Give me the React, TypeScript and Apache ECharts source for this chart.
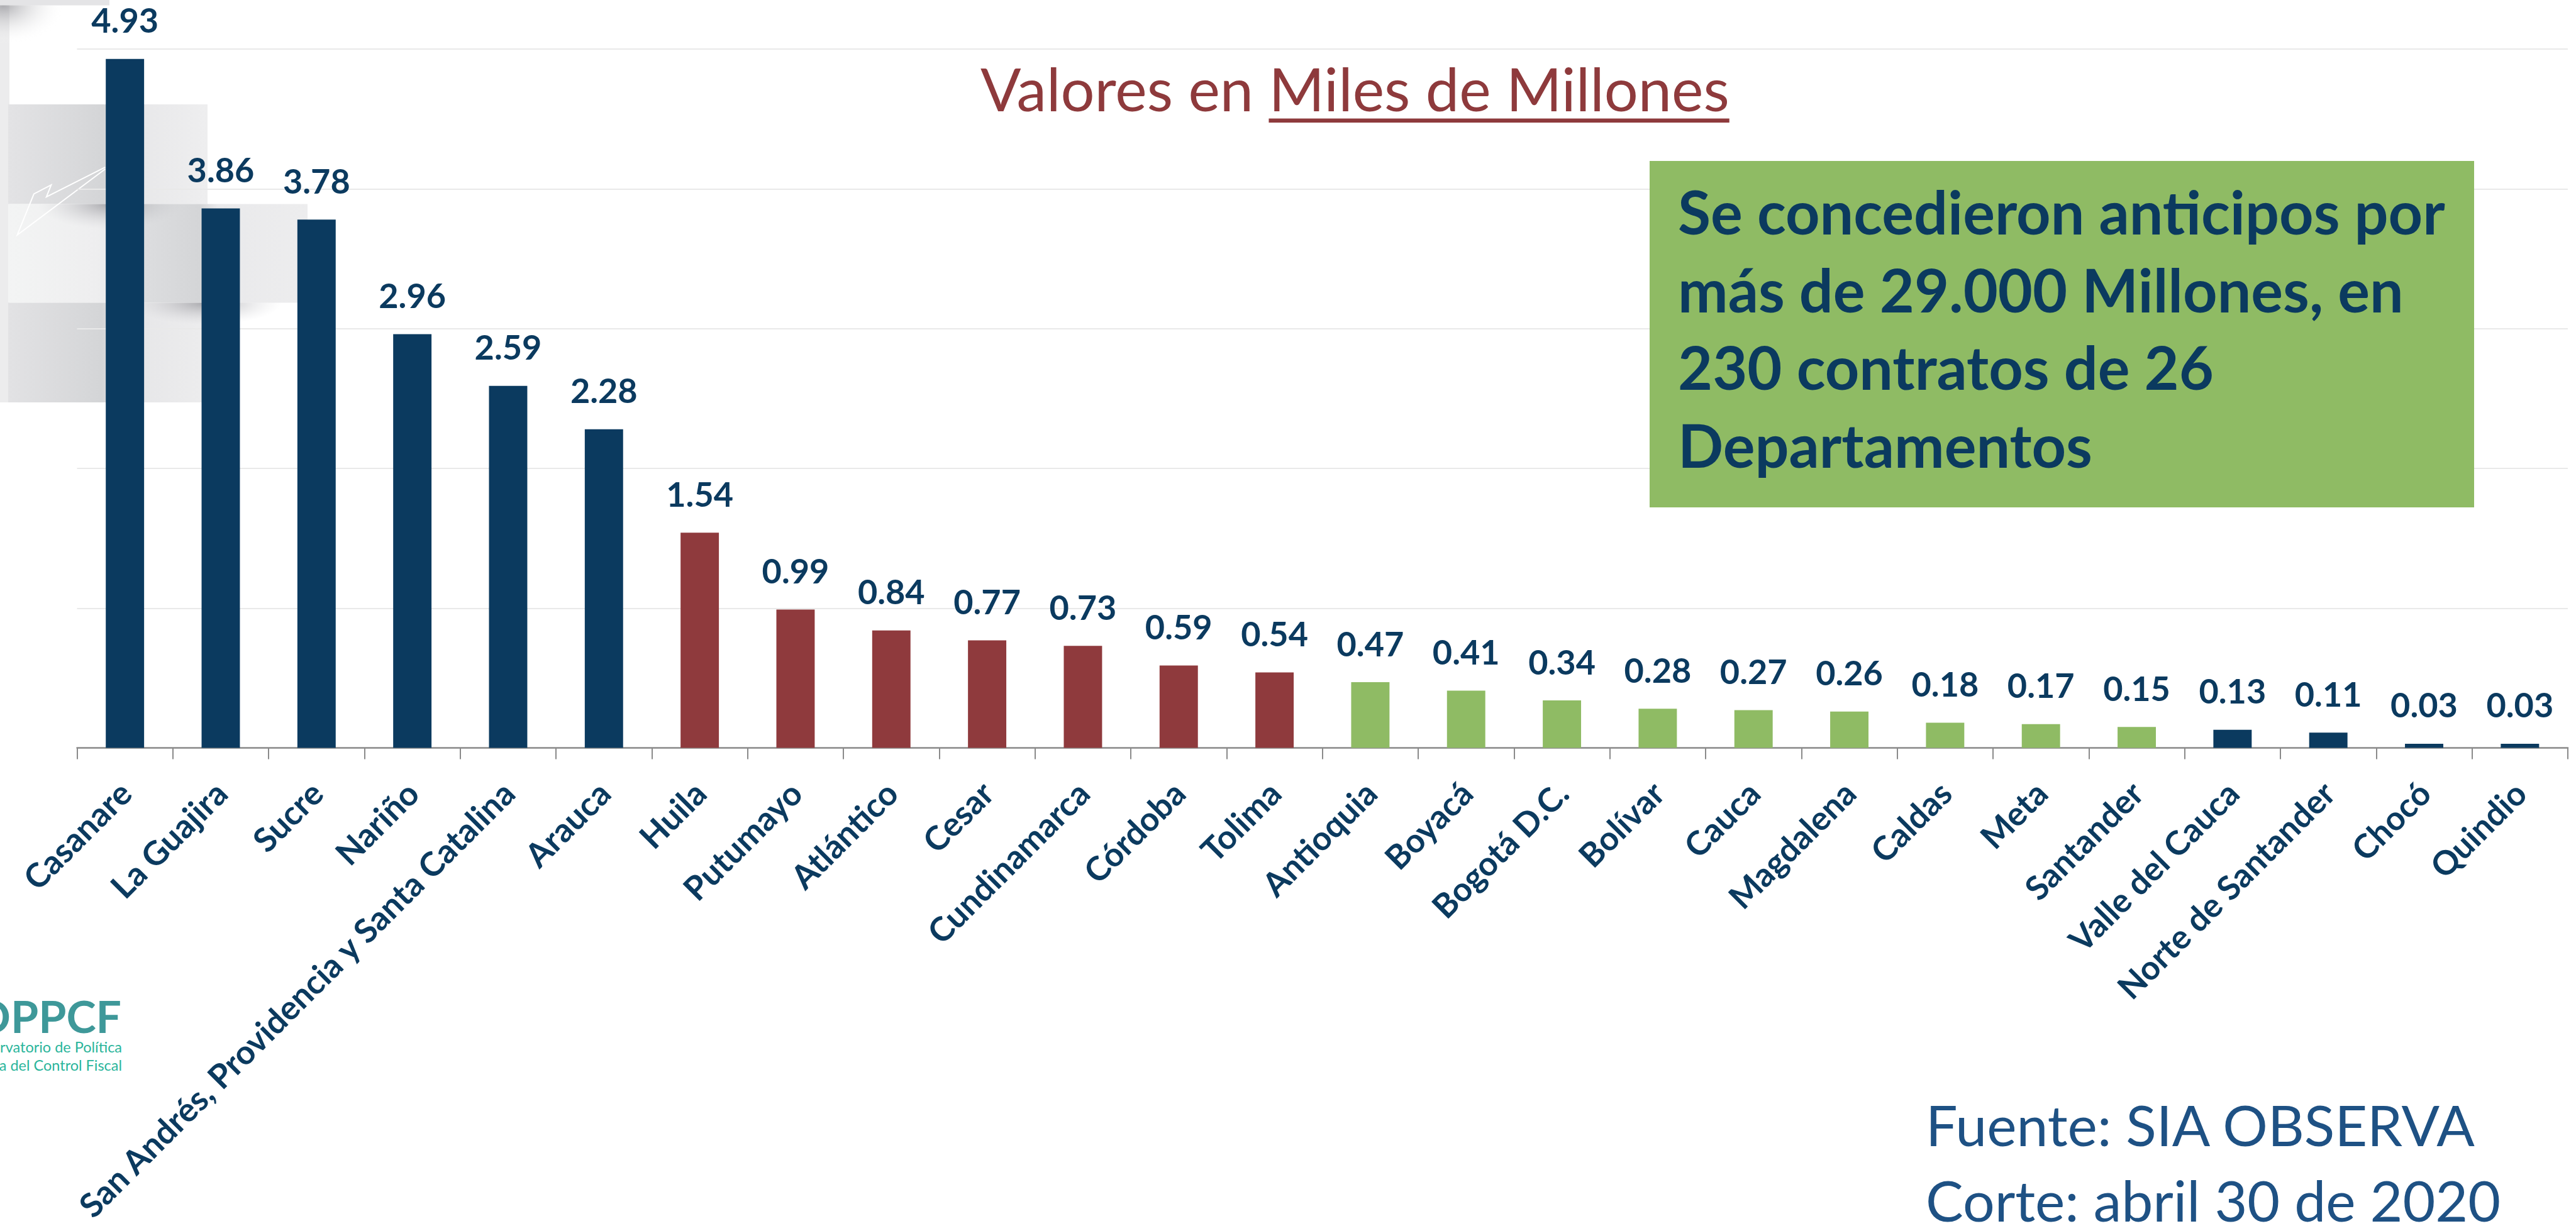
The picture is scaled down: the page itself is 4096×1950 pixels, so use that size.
import React, { useEffect, useRef } from "react";
import * as echarts from "echarts";

// ---------- DATA ----------
const categories: string[] = [
  "Casanare",
  "La Guajira",
  "Sucre",
  "Nariño",
  "San Andrés, Providencia y Santa Catalina",
  "Arauca",
  "Huila",
  "Putumayo",
  "Atlántico",
  "Cesar",
  "Cundinamarca",
  "Córdoba",
  "Tolima",
  "Antioquia",
  "Boyacá",
  "Bogotá D.C.",
  "Bolívar",
  "Cauca",
  "Magdalena",
  "Caldas",
  "Meta",
  "Santander",
  "Valle del Cauca",
  "Norte de Santander",
  "Chocó",
  "Quindio",
];

const values: number[] = [
  4.93, 3.86, 3.78, 2.96, 2.59, 2.28, 1.54, 0.99, 0.84, 0.77, 0.73, 0.59, 0.54,
  0.47, 0.41, 0.34, 0.28, 0.27, 0.26, 0.18, 0.17, 0.15, 0.13, 0.11, 0.03, 0.03,
];

const groups: string[] = [
  "alto", "alto", "alto", "alto", "alto", "alto",
  "medio", "medio", "medio", "medio", "medio", "medio", "medio",
  "bajo", "bajo", "bajo", "bajo", "bajo", "bajo", "bajo", "bajo", "bajo",
  "alto", "alto", "alto", "alto",
];

const yInterval = 1; // gridline step (0,1,2,3,4,5 visible)

const titleText = "Valores en Miles de Millones";
const titlePlain = "Valores en ";
const boxLines: string[] = [
  "Se concedieron anticipos por",
  "más de 29.000 Millones, en",
  "230 contratos de 26",
  "Departamentos",
];
const sourceLines: string[] = ["Fuente: SIA OBSERVA", "Corte: abril 30 de 2020"];
const logoLines: string[] = ["Observatorio de Política", "Pública del Control Fiscal"];

// ---------- STYLE / LAYOUT ----------
const NAVY = "#0B3A5F";
const RED = "#8F3A3D";
const GREEN = "#8FBB64";
const palette: Record<string, string> = { alto: NAVY, medio: RED, bajo: GREEN };
const FONT = "Lato";

const W = 4096;
const H = 1950;
const AXIS_Y = 1189.6; // pixel row of the category axis
const UNIT_PX = 222.3; // pixels per unit on the value axis

let measureCtx: CanvasRenderingContext2D | null = null;
function textWidth(text: string, weight: string, size: number): number {
  if (!measureCtx) measureCtx = document.createElement("canvas").getContext("2d");
  measureCtx!.font = `${weight} ${size}px ${FONT}`;
  return measureCtx!.measureText(text).width;
}
function fitSize(text: string, weight: string, target: number): number {
  return (100 * target) / textWidth(text, weight, 100);
}
// y for verticalAlign middle (SVG central baseline) given wanted alphabetic baseline
const midY = (baseline: number, size: number) => baseline - 0.387 * size;

export default function App() {
  const ref = useRef<HTMLDivElement>(null);

  useEffect(() => {
    if (!ref.current) return;
    const chart = echarts.init(ref.current, null, { renderer: "svg", width: W, height: H });

    const titleSize = fitSize(titleText, "normal", 1191);
    const titleX = 1559;
    const ulStart = titleX + textWidth(titlePlain, "normal", titleSize);
    const ulEnd = titleX + textWidth(titleText, "normal", titleSize);

    const boxSize = fitSize(boxLines[0], "bold", 1220);
    const srcSize = fitSize(sourceLines[0], "normal", 876);
    const logoBig = fitSize("PPCF", "bold", 176);
    const logoSmall = fitSize("rvatorio de Política", "normal", 194);

    const boxBaselines = [373, 497, 620, 744];
    const srcBaselines = [1823, 1943];

    const graphics: any[] = [
      // decorative slide background (left)
      { type: "rect", z: -5, shape: { x: 0, y: 0, width: 15, height: 640 }, style: { fill: "#ececed" } },
      { type: "rect", z: -5, shape: { x: 0, y: 0, width: 174, height: 8.5 }, style: { fill: "#e4e4e6" } },
      {
        type: "rect", z: -5, shape: { x: 0, y: 8.5, width: 110, height: 70 },
        style: {
          fill: new echarts.graphic.RadialGradient(0.05, 0, 0.9, [
            { offset: 0, color: "rgba(150,150,155,0.75)" },
            { offset: 1, color: "rgba(255,255,255,0)" },
          ]),
        },
      },
      {
        type: "rect", z: -5, shape: { x: 13, y: 166, width: 317, height: 158.5 },
        style: {
          fill: new echarts.graphic.LinearGradient(0, 0, 1, 0, [
            { offset: 0, color: "#e3e3e5" },
            { offset: 0.48, color: "#d4d5d7" },
            { offset: 0.6, color: "#e7e7e9" },
            { offset: 1, color: "#eeeeef" },
          ]),
        },
      },
      {
        type: "rect", z: -5, shape: { x: 13, y: 324.5, width: 476, height: 157 },
        style: {
          fill: new echarts.graphic.LinearGradient(0, 0, 1, 0, [
            { offset: 0, color: "#f3f4f4" },
            { offset: 0.3, color: "#eeeeef" },
            { offset: 0.46, color: "#dcdddf" },
            { offset: 0.64, color: "#d4d5d7" },
            { offset: 0.7, color: "#e9e9eb" },
            { offset: 1, color: "#ededee" },
          ]),
        },
      },
      {
        type: "rect", z: -5, shape: { x: 13, y: 481.5, width: 308, height: 158.5 },
        style: {
          fill: new echarts.graphic.LinearGradient(0, 0, 1, 0, [
            { offset: 0, color: "#e2e2e4" },
            { offset: 0.48, color: "#d4d5d7" },
            { offset: 0.62, color: "#e6e6e8" },
            { offset: 1, color: "#ececed" },
          ]),
        },
      },
      {
        type: "rect", z: -4, shape: { x: 60, y: 324.5, width: 230, height: 80 },
        style: {
          fill: new echarts.graphic.RadialGradient(0.5, 0, 0.5, [
            { offset: 0, color: "rgba(120,120,126,0.6)" },
            { offset: 1, color: "rgba(200,200,205,0)" },
          ]),
        },
      },
      {
        type: "rect", z: -4, shape: { x: 220, y: 481.5, width: 240, height: 70 },
        style: {
          fill: new echarts.graphic.RadialGradient(0.45, 0, 0.5, [
            { offset: 0, color: "rgba(120,120,126,0.6)" },
            { offset: 1, color: "rgba(200,200,205,0)" },
          ]),
        },
      },
      {
        type: "polyline", z: -3,
        shape: {
          points: [
            [167.4, 265.8], [73.8, 313.1], [81.4, 294.2], [53.9, 308.4], [27.4, 373.7], [167.4, 268.7],
          ],
        },
        style: { stroke: "#ffffff", lineWidth: 2, fill: null },
      },
      // title
      {
        type: "text", z: 20, x: titleX, y: midY(177, titleSize),
        style: {
          text: titleText, fontFamily: FONT, fontSize: titleSize, fontWeight: "normal",
          fill: "#8E3A3C", align: "left", verticalAlign: "middle",
        },
      },
      {
        type: "rect", z: 20, shape: { x: ulStart, y: 188.5, width: ulEnd - ulStart, height: 6.5 },
        style: { fill: "#8E3A3C" },
      },
      // green box
      { type: "rect", z: 20, shape: { x: 2623, y: 256, width: 1311, height: 551 }, style: { fill: GREEN } },
      ...boxLines.map((t, i) => ({
        type: "text", z: 21, x: 2668, y: midY(boxBaselines[i], boxSize),
        style: {
          text: t, fontFamily: FONT, fontSize: boxSize, fontWeight: "bold",
          fill: NAVY, align: "left", verticalAlign: "middle",
        },
      })),
      // source
      ...sourceLines.map((t, i) => ({
        type: "text", z: 20, x: 3062, y: midY(srcBaselines[i], srcSize),
        style: {
          text: t, fontFamily: FONT, fontSize: srcSize, fontWeight: "normal",
          fill: "#1E5184", align: "left", verticalAlign: "middle",
        },
      })),
      // logo
      {
        type: "text", z: 20, x: 193, y: midY(1643, logoBig),
        style: {
          text: "OPPCF", fontFamily: FONT, fontSize: logoBig, fontWeight: "bold",
          fill: "#3E9899", align: "right", verticalAlign: "middle",
        },
      },
      ...logoLines.map((t, i) => ({
        type: "text", z: 20, x: 194, y: midY([1674, 1703][i], logoSmall),
        style: {
          text: t, fontFamily: FONT, fontSize: logoSmall, fontWeight: "normal",
          fill: "#2AB59B", align: "right", verticalAlign: "middle",
        },
      })),
    ];

    const option: any = {
      animation: false,
      backgroundColor: "#ffffff",
      grid: { left: 122.5, right: 13, top: 0, bottom: H - AXIS_Y, containLabel: false },
      xAxis: {
        type: "category",
        data: categories,
        boundaryGap: true,
        axisLine: { show: true, lineStyle: { color: "#8a8a8a", width: 2.5 } },
        axisTick: { show: true, length: 18, lineStyle: { color: "#8a8a8a", width: 2 } },
        axisLabel: {
          interval: 0,
          rotate: 45,
          margin: 62,
          color: NAVY,
          fontFamily: FONT,
          fontWeight: "bold",
          fontSize: 53,
        },
        splitLine: { show: false },
      },
      yAxis: {
        type: "value",
        min: 0,
        max: AXIS_Y / UNIT_PX,
        interval: yInterval,
        axisLine: { show: false },
        axisTick: { show: false },
        axisLabel: { show: false },
        splitLine: { show: true, showMaxLine: false, lineStyle: { color: "#e9e9e9", width: 2.2 } },
      },
      series: [
        {
          type: "bar",
          barWidth: "40%",
          data: values.map((v, i) => ({ value: v, itemStyle: { color: palette[groups[i]] } })),
          label: {
            show: true,
            position: "top",
            distance: 35,
            formatter: (p: any) => Number(p.value).toFixed(2),
            color: NAVY,
            fontFamily: FONT,
            fontWeight: "bold",
            fontSize: 54,
            lineHeight: 54,
          },
        },
      ],
      graphic: graphics,
    };

    chart.setOption(option);
    return () => chart.dispose();
  }, []);

  return (
    <div
      ref={ref}
      style={{ position: "fixed", left: 0, top: 0, width: W, height: H, background: "#fff" }}
    />
  );
}
